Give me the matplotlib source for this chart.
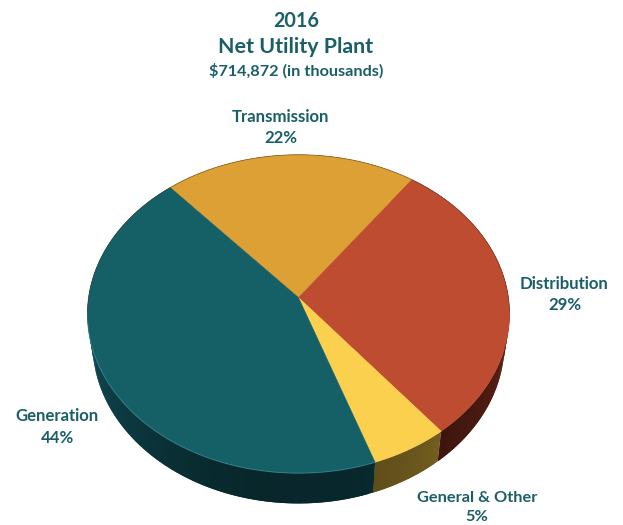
import numpy as np
import matplotlib
matplotlib.use('Agg')
import matplotlib.pyplot as plt
from matplotlib.colors import to_rgb

plt.rcParams['font.family'] = ['Lato', 'DejaVu Sans']

# shares, printed labels are the rounded ones from the chart
names = ['Transmission', 'Distribution', 'General & Other', 'Generation']
shares = [21.4, 29.3, 5.4, 43.9]
printed = ['22%', '29%', '5%', '44%']
colors = ['#DDA035', '#BE4C30', '#FBD04F', '#155F67']
side_colors = ['#8a6420', '#5E2115', '#B09030', '#0F4C55']

label_pos = [(281, 117, 138), (564.5, 284, 305), (477, 498, 517), (57.5, 416, 438)]
label_size = [12.1, 12.1, 11.8, 12.1]
text_color = '#1A5E68'

# pie geometry in pixels
cx, cy = 298.5, 297.5
rx, ry = 209.9, 157.5
persp = 0.1033
start = -41.2
drop = 29.5
shrink = 0.976


def rim(theta, lower=False):
    # theta in degrees, clockwise from the top of the disc
    t = np.radians(theta)
    x, y = np.sin(t), np.cos(t)
    w = 1 + persp * y
    px = rx * x / w
    py = -ry * y / w
    if lower:
        # bottom rim is a slightly smaller copy
        ey = 16.2
        px = px * shrink
        py = ey + (py - ey) * 1.005 + drop
    return cx + px, cy + py


fig = plt.figure(figsize=(6.23, 5.25), dpi=100)
ax = fig.add_axes([0, 0, 1, 1])
ax.set_xlim(0, 623)
ax.set_ylim(525, 0)
ax.axis('off')

edges = start + np.concatenate([[0], np.cumsum(shares)]) * 3.6

# side wall first, top faces go over it
for i in range(len(shares)):
    th = np.linspace(edges[i], edges[i + 1], int(shares[i] * 3) + 2)
    for a, b in zip(th[:-1], th[1:]):
        # each piece runs over the next one so no seams show
        seg = np.linspace(a, min(b + 1.2, edges[i + 1]), 5)
        x0, y0 = rim(seg)
        x1, y1 = rim(seg[::-1], lower=True)
        # darkest toward the front of the wall
        mid = np.radians((a + b) / 2)
        shade = 1 - 0.5 * max(0, -np.cos(mid)) ** 1.5
        c = tuple(v * shade for v in to_rgb(side_colors[i]))
        ax.fill(np.r_[x0, x1], np.r_[y0, y1], facecolor=c, edgecolor='none', zorder=2)

for i in range(len(shares)):
    th = np.linspace(edges[i], edges[i + 1], 120)
    x, y = rim(th)
    ax.fill(np.r_[cx, x], np.r_[cy, y], color=colors[i], lw=0.3, zorder=3)

# thin dark line on the back of the rim, soft light one on the front
th = np.linspace(-95, 95, 200)
ax.plot(*rim(th), color='#4a3a2a', lw=0.6, alpha=0.5, zorder=4)
th = np.linspace(edges[3], edges[4], 150)
th = th[th < 262]
x, y = rim(th)
ax.plot(x, y, color='#3f8a90', lw=0.8, alpha=0.6, zorder=4)

for name, pct, (lx, y1, y2), fs in zip(names, printed, label_pos, label_size):
    ax.text(lx, y1, name, color=text_color, fontsize=fs, fontweight='bold', ha='center', va='center')
    ax.text(lx, y2, pct, color=text_color, fontsize=fs, fontweight='bold', ha='center', va='center')

ax.text(296, 21, '2016', color=text_color, fontsize=14.2, fontweight='bold', ha='center', va='center')
ax.text(296, 47, 'Net Utility Plant', color=text_color, fontsize=15.4, fontweight='bold', ha='center', va='center')
ax.text(296.5, 71, '$714,872 (in thousands)', color=text_color, fontsize=11.7, fontweight='bold', ha='center', va='center')

fig.savefig('out.png', dpi=100)
